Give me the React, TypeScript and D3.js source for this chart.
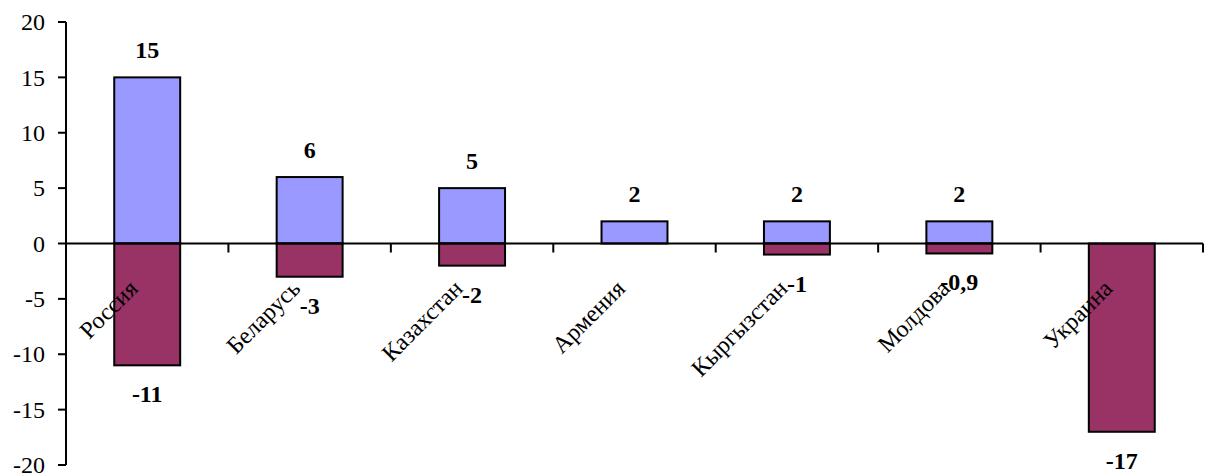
import React from "react";
import * as d3 from "d3";

const categories = ["Россия", "Беларусь", "Казахстан", "Армения", "Кыргызстан", "Молдова", "Украина"];
const gains = [15, 6, 5, 2, 2, 2, 0];
const losses = [-11, -3, -2, 0, -1, -0.9, -17];
const yTicks = [20, 15, 10, 5, 0, -5, -10, -15, -20];

const W = 1208;
const H = 475;
const left = 66;
const right = 1203;
const top = 22;
const bottom = 465;
const FONT = "Times New Roman, Liberation Serif, Tinos, FreeSerif, serif";
const BLUE = "#9999FF";
const MAROON = "#993366";

const fmt = (v: number) => String(v).replace(".", ",");

export default function App() {
  const x = d3.scaleBand<string>().domain(categories).range([left, right]).paddingInner(0).paddingOuter(0);
  const y = d3.scaleLinear().domain([-20, 20]).range([bottom, top]);
  const bw = x.bandwidth() * 0.406;
  const y0 = y(0);
  const boundaries = d3.range(categories.length + 1).map((i) => left + i * x.step());
  const txt = { fontFamily: FONT };

  return (
    <svg width={W} height={H} style={{ position: "absolute", left: 0, top: 0, background: "#fff" }}>
      {/* value axis */}
      <line x1={left} x2={left} y1={top} y2={bottom} stroke="#000" strokeWidth={2} />
      {yTicks.map((t) => (
        <g key={t}>
          <line x1={left - 8} x2={left} y1={y(t)} y2={y(t)} stroke="#000" strokeWidth={2} />
          <text x={left - 21} y={y(t)} dy="0.34em" textAnchor="end" fontSize={24} style={txt}>
            {t}
          </text>
        </g>
      ))}

      {/* bars */}
      {categories.map((c, i) => {
        const cx = (x(c) as number) + x.bandwidth() / 2;
        return (
          <g key={c}>
            {gains[i] !== 0 && (
              <rect x={cx - bw / 2} y={y(gains[i])} width={bw} height={y0 - y(gains[i])} fill={BLUE} stroke="#000" strokeWidth={2} />
            )}
            {losses[i] !== 0 && (
              <rect x={cx - bw / 2} y={y0} width={bw} height={y(losses[i]) - y0} fill={MAROON} stroke="#000" strokeWidth={2} />
            )}
          </g>
        );
      })}

      {/* category axis */}
      <line x1={left} x2={right} y1={y0} y2={y0} stroke="#000" strokeWidth={2} />
      {boundaries.map((b, i) => (
        <line key={i} x1={b} x2={b} y1={y0} y2={y0 + 9} stroke="#000" strokeWidth={2} />
      ))}

      {/* value labels */}
      {categories.map((c, i) => {
        const cx = (x(c) as number) + x.bandwidth() / 2;
        return (
          <g key={c} fontWeight="bold" fontSize={24} textAnchor="middle" style={txt}>
            {gains[i] !== 0 && (
              <text x={cx} y={y(gains[i]) - 19}>
                {fmt(gains[i])}
              </text>
            )}
            {losses[i] !== 0 && (
              <text x={cx} y={y(losses[i]) + 37}>
                {fmt(losses[i])}
              </text>
            )}
          </g>
        );
      })}

      {/* category labels */}
      {categories.map((c) => {
        const cx = (x(c) as number) + x.bandwidth() / 2;
        return (
          <text key={c} fontSize={24} textAnchor="end" style={txt} transform={`translate(${cx - 8},${290}) rotate(-45)`}>
            {c}
          </text>
        );
      })}
    </svg>
  );
}
